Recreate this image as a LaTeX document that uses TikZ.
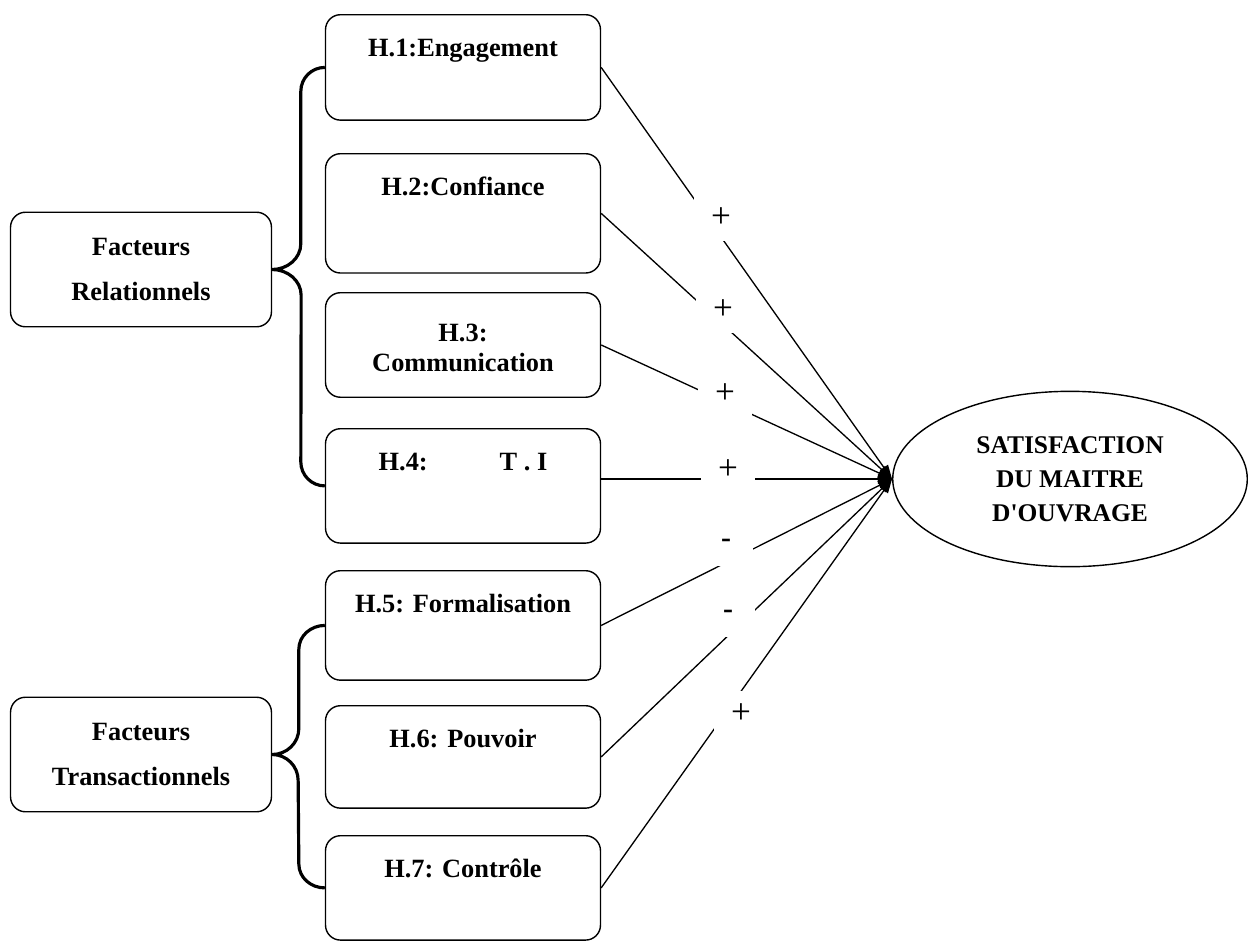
\documentclass[tikz,border=0pt]{standalone}
\usepackage{fontspec}
\setmainfont{Liberation Serif}
\usetikzlibrary{arrows.meta,shapes.geometric,calc}
\begin{document}
\begin{tikzpicture}[x=0.02cm,y=-0.02cm,
  boxfont/.style={font=\bfseries\fontsize{15}{17}\selectfont},
  hyp/.style={draw, line width=0.8pt, rounded corners=8.5pt, boxfont,
    minimum width=156.5pt, inner xsep=0pt, inner ysep=12.6pt,
    text height=11pt, anchor=north},
  group/.style={draw, line width=0.8pt, rounded corners=8.5pt, boxfont,
    minimum width=148.5pt, minimum height=65.2pt, align=center},
  outcome/.style={draw, ellipse, line width=0.8pt, minimum width=201.8pt,
    minimum height=99.8pt, inner sep=0pt, align=center,
    font=\bfseries\fontsize{14.5}{19.3}\selectfont},
  brace/.style={line width=1.8pt},
  link/.style={line width=0.75pt, -{Triangle[length=8pt,width=5.5pt]}},
  sign/.style={fill=white, inner sep=0pt, minimum width=30.6pt, minimum height=26pt},
  signplus/.style={sign, font=\fontsize{20}{20}\selectfont},
  signminus/.style={sign, font=\bfseries\fontsize{17}{17}\selectfont}
]
\useasboundingbox (0,0) rectangle (1250,943);

% factor groups
\node[group] (fr) at (141,269.5) {Facteurs\\[9pt]Relationnels};
\node[group] (ft) at (141,754.5) {Facteurs\\[9pt]Transactionnels};

% hypotheses
\node[hyp, text depth=23.8pt] (h1) at (463,14) {H.1:Engagement};
\node[hyp, text depth=31.7pt] (h2) at (463,153) {H.2:Confiance};
\node[hyp, align=center, inner ysep=8pt, text height=36.6pt, text depth=6.9pt] (h3) at (463,292) {H.3:\\Communication};
\node[hyp, text depth=28.9pt] (h4) at (463,428) {H.4:\hspace{41pt}T . I};
\node[hyp, text depth=26.1pt] (h5) at (463,570) {H.5: Formalisation};
\node[hyp, text depth=22.1pt] (h6) at (463,705) {H.6: Pouvoir};
\node[hyp, text depth=23.2pt] (h7) at (463,835) {H.7: Contrôle};

% outcome
\node[outcome] (sat) at (1070,479) {SATISFACTION\\DU MAITRE\\D\textquotesingle OUVRAGE};

% braces grouping the hypotheses
\draw[brace] (h1.west) to[out=180,in=90] ++(-24,24) coordinate (b1)
  -- ($(b1 |- fr.east)+(0,-26)$) to[out=-90,in=0] (fr.east)
  to[out=0,in=90] ++(29,26) -- ($(h4.west)+(-24,-24)$)
  to[out=-90,in=180] (h4.west);
\draw[brace] (h5.west) to[out=180,in=90] ++(-26,24) coordinate (b2)
  -- ($(b2 |- ft.east)+(0,-26)$) to[out=-90,in=0] (ft.east)
  to[out=0,in=90] ++(26,26) -- ($(h7.west)+(-26,-24)$)
  to[out=-90,in=180] (h7.west);

% links to the outcome
\foreach \h in {h1,h2,h3,h5,h6,h7}
  \draw[link] (\h.east) -- (sat.west);
\draw[link] (h4.east |- sat.west) -- (sat.west);

% signs of the hypotheses
\node[signplus] (s1) at (721,218) {+};
\node[signplus] (s2) at (723,310) {+};
\node[signplus] (s3) at (725,394) {+};
\node[signplus] (s4) at (728,470) {+};
\node[signminus] (s5) at (726,543) {-};
\node[signminus] (s6) at (728,614) {-};
\node[signplus] (s7) at (741,714) {+};
\end{tikzpicture}
\end{document}
